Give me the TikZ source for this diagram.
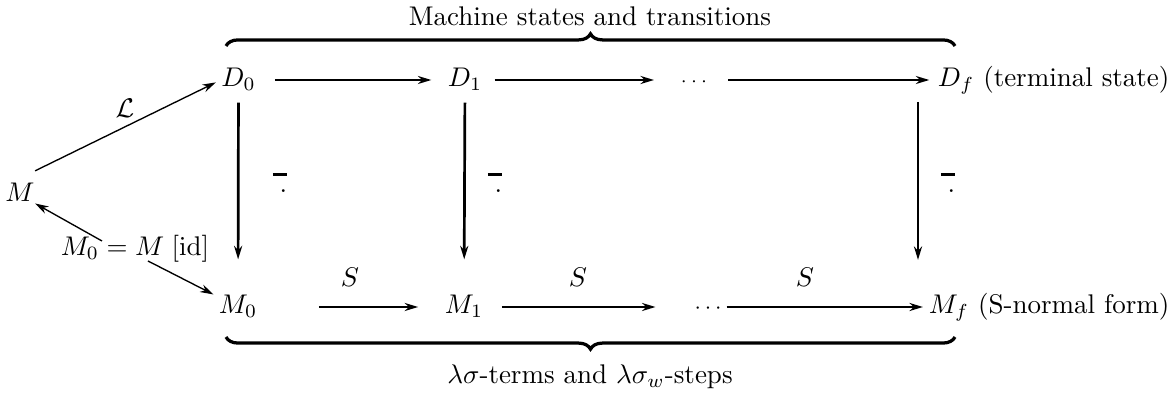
\documentclass[tikz,border=0pt]{standalone}
\usetikzlibrary{arrows.meta,decorations.pathreplacing}
\newcommand{\barpt}{\rule[6.2pt]{5.2pt}{1.1pt}\llap{\makebox[4.6pt][r]{.}}}
\begin{document}
\begin{tikzpicture}[x=0.37037pt,y=-0.37037pt,
  obj/.style={inner sep=0pt,text height=7pt,text depth=2.5pt},
  arr/.style={-{Stealth[length=5pt,width=3pt]},line width=0.7pt},
  varr/.style={-{Stealth[length=5pt,width=3pt]},line width=1pt},
  darr/.style={-{Stealth[length=5pt,width=3pt]},line width=0.5pt},
  brc/.style={decorate,decoration={brace,amplitude=4.5pt},line width=1.2pt},
  eqmark/.style={inner sep=0pt,anchor=base}]
\useasboundingbox (0,0) rectangle (1173,395);
% top row
\node[obj] (D0) at (238.5,80) {$D_0$};
\node[obj] (D1) at (465,80) {$D_1$};
\node[obj] (Dd) at (694,80) {\scriptsize$\cdots$};
\node[obj,anchor=east] (Df) at (1170,80) {$D_f$ (terminal state)};
% bottom row
\node[obj] (M0) at (238,307) {$M_0$};
\node[obj] (M1) at (464,307) {$M_1$};
\node[obj] (Md) at (708,307) {\footnotesize$\cdots$};
\node[obj,anchor=east] (Mf) at (1170,307) {$M_f$ (S-normal form)};
% left
\node[obj] (M) at (20,195) {$M$};
\node[inner sep=0pt] (lab) at (135,249) {$M_0 = M\;[\mathrm{id}]$};
\coordinate (la) at (102,241);
\coordinate (lb) at (148,261);
\coordinate (Dfv) at (918,92.8);
\coordinate (Mfv) at (918,294.2);
% horizontal arrows
\draw[arr,shorten <=6.9pt,shorten >=5.9pt] (D0) -- (D1);
\draw[arr,shorten <=4.4pt,shorten >=9.7pt] (D1) -- (Dd);
\draw[arr,shorten <=7.5pt,shorten >=3pt] (Dd) -- (Df);
\draw[arr,shorten <=22.7pt,shorten >=9.7pt] (M0) -- (M1);
\node (S1) at (350,277) {$S$};
\draw[arr,shorten <=6.7pt,shorten >=14.3pt] (M1) -- (Md);
\node (S2) at (578,277) {$S$};
\draw[arr,shorten <=1.7pt,shorten >=2pt] (Md) -- (Mf);
\node (S3) at (805,277) {$S$};
% vertical arrows
\draw[varr,shorten <=3.4pt,shorten >=12.7pt] (D0) -- (M0);
\draw[varr,shorten <=3.4pt,shorten >=12.7pt] (D1) -- (M1);
\draw[varr,shorten <=3.4pt,shorten >=12.7pt] (Dfv) -- (Mfv);
\node[eqmark] (e1) at (280,193) {\barpt};
\node[eqmark] (e2) at (495,193) {\barpt};
\node[eqmark] (e3) at (948,193) {\barpt};
% diagonals
\draw[darr,shorten >=2pt] ([yshift=4pt]M.north east) -- (D0.west);
\node (L) at (125,108) {$\mathcal{L}$};
\draw[darr] (la) -- (M);
\draw[darr,shorten >=2pt] (lb) -- (M0);
% braces
\draw[brc] (226,46) -- (955,46);
\node (top) at (590,16) {Machine states and transitions};
\draw[brc] (955,337) -- (226,337);
\node (bot) at (590,377) {$\lambda\sigma$-terms and $\lambda\sigma_w$-steps};
\end{tikzpicture}
\end{document}
